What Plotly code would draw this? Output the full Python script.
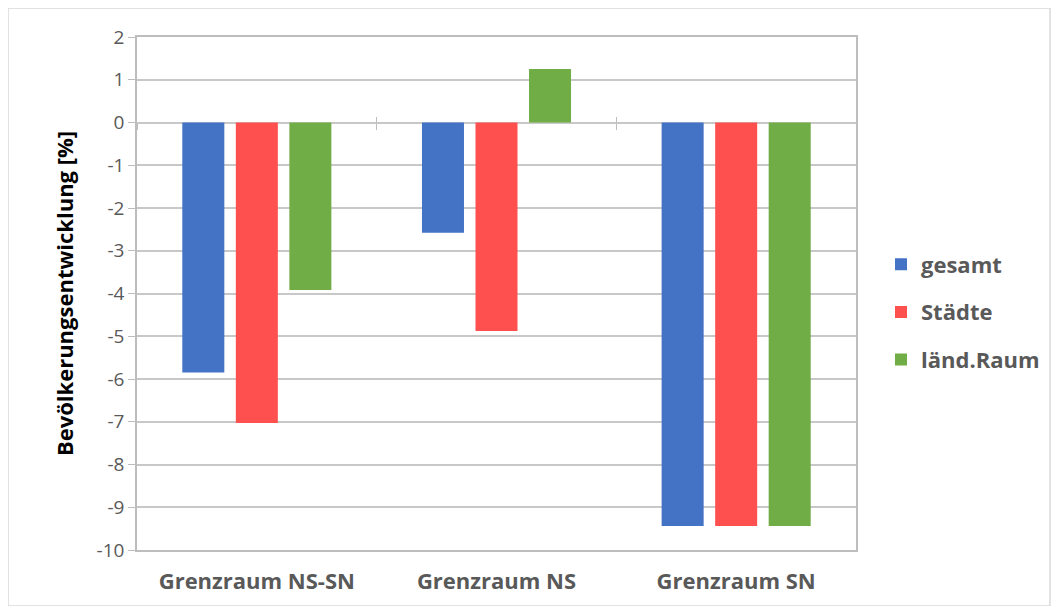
import plotly.graph_objects as go

# data
categories = ["Grenzraum NS-SN", "Grenzraum NS", "Grenzraum SN"]
gesamt = [-5.85, -2.58, -9.44]
staedte = [-7.03, -4.88, -9.44]
laend_raum = [-3.92, 1.25, -9.44]
y_ticks = list(range(-10, 3))
y_tick_labels = [str(v) for v in y_ticks]  # plain hyphen minus like Excel

SERIES = [
    ("gesamt", gesamt, "#4472C4"),
    ("Städte", staedte, "#FF5050"),
    ("länd.Raum", laend_raum, "#70AD47"),
]
FONT = "'Open Sans', Lato, sans-serif"
GRID = "#C8C8C8"
AXIS = "#BDBDBD"
TXT = "#595959"

# page body has an 8px margin, so the figure is 16px smaller than the window
W, H = 1043, 598
L, R, T, B = 129, 195, 29, 56
pw, ph = W - L - R, H - T - B

fig = go.Figure()
for name, vals, color in SERIES:
    fig.add_trace(
        go.Bar(
            x=categories,
            y=vals,
            name=name,
            legendgroup=name,
            marker=dict(color=color, line=dict(width=0)),
        )
    )

# axes at y=0 carrying the category-boundary tick marks (cross style)
zero_pos = (0 - y_ticks[0]) / (y_ticks[-1] - y_ticks[0])
for ax, tk in (("xaxis2", "outside"), ("xaxis3", "inside")):
    fig.update_layout(**{ax: dict(
        overlaying="x", anchor="free", position=zero_pos, type="category",
        categoryorder="array", categoryarray=categories, range=[-0.5, 2.5],
        showticklabels=False, ticks=tk, tickson="boundaries", ticklen=6,
        tickcolor=AXIS, showgrid=False, showline=False, zeroline=False,
    )})
for ax in ("x2", "x3"):
    fig.add_trace(go.Scatter(x=categories, y=[None] * 3, xaxis=ax,
                             showlegend=False, hoverinfo="skip"))

fig.update_layout(
    width=W,
    height=H,
    margin=dict(l=L, r=R, t=T, b=B, autoexpand=False),
    paper_bgcolor="white",
    plot_bgcolor="white",
    barmode="group",
    bargap=0.33,
    bargroupgap=0.215,
    font=dict(family=FONT, color=TXT),
    xaxis=dict(
        range=[-0.5, 2.5],
        showline=True, mirror=True, linecolor=AXIS, linewidth=1.5,
        ticks="", showgrid=False,
        tickfont=dict(size=22, color=TXT, weight="bold"),
        ticklabelstandoff=11,
    ),
    yaxis=dict(
        range=[y_ticks[0], y_ticks[-1]],
        tickvals=y_ticks,
        ticktext=y_tick_labels,
        showline=True, mirror=True, linecolor=AXIS, linewidth=1.5,
        ticks="outside", ticklen=7, tickcolor=AXIS,
        showgrid=True, gridcolor=GRID, gridwidth=1.5,
        zeroline=True, zerolinecolor=GRID, zerolinewidth=1.5,
        tickfont=dict(size=19, color=TXT),
        title=dict(text="Bevölkerungsentwicklung [%]",
                   font=dict(size=22, color="black", weight="bold"),
                   standoff=17),
    ),
    legend=dict(
        x=(873 - L) / pw, xanchor="left",
        y=(H - B - 304) / ph, yanchor="middle",
        font=dict(size=22, color=TXT, weight="bold"),
        tracegroupgap=16,
        traceorder="grouped",
        bgcolor="rgba(0,0,0,0)",
    ),
    shapes=[dict(
        type="rect", xref="paper", yref="paper",
        x0=-L / pw, x1=(W - 1 - L) / pw,
        y0=-B / ph, y1=(H - B) / ph,
        line=dict(color="#D9D9D9", width=1.5), layer="below",
    )],
)

fig.write_html("out.html")
